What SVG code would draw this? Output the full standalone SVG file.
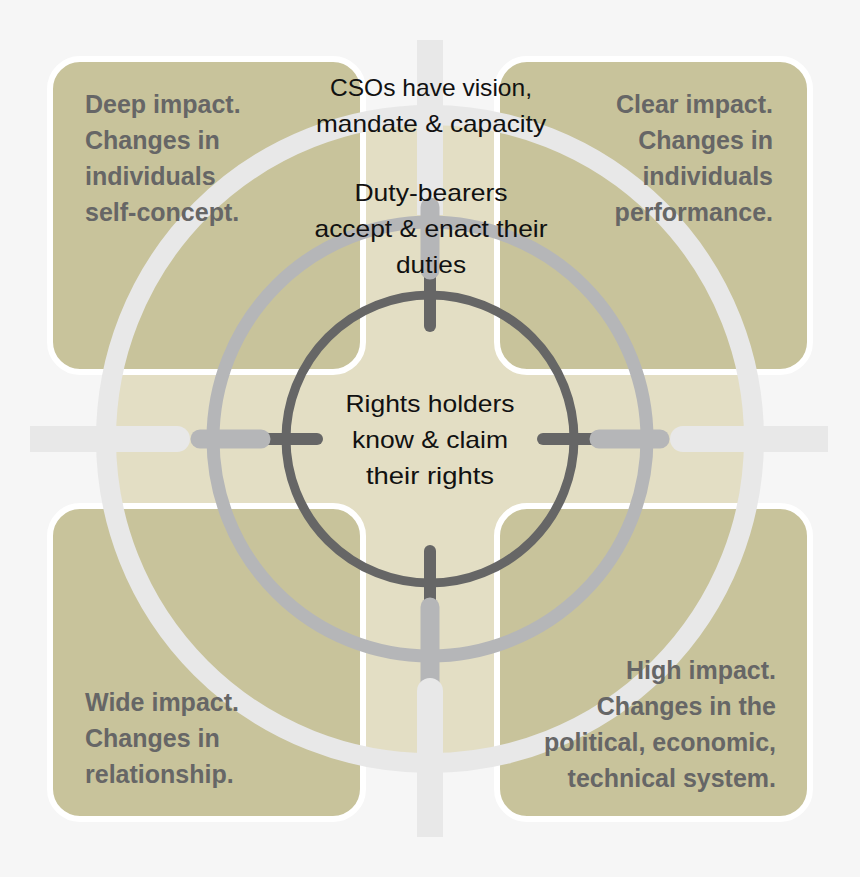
<svg xmlns="http://www.w3.org/2000/svg" width="860" height="877" viewBox="0 0 860 877">
<style>
.box{fill:#c8c39b;stroke:#ffffff;stroke-width:6}
.bt{font-family:"Liberation Sans",Arial,sans-serif;font-weight:bold;font-size:25px;fill:#666666}
.ct{font-family:"Liberation Sans",Arial,sans-serif;font-size:24px;fill:#111111;text-anchor:middle}
.ring{fill:none}
.lt{stroke:#e8e8e8}
.md{stroke:#b5b6b8}
.dk{stroke:#666666}
.bar{stroke-linecap:round;fill:none}
</style>
<rect x="0" y="0" width="860" height="877" fill="#f6f6f6"/>
<circle cx="430" cy="439" r="324" fill="#e3dec4"/>
<g id="box-deep"><rect class="box" x="50" y="59" width="313" height="313" rx="30"/></g>
<g id="box-clear"><rect class="box" x="497" y="59" width="313" height="313" rx="30"/></g>
<g id="box-wide"><rect class="box" x="50" y="506" width="313" height="313" rx="30"/></g>
<g id="box-high"><rect class="box" x="497" y="506" width="313" height="313" rx="30"/></g>
<g id="rings">
<circle class="ring lt" cx="430" cy="439" r="324" stroke-width="20"/>
<circle class="ring md" cx="430" cy="439" r="217" stroke-width="13"/>
<circle class="ring dk" cx="430" cy="439" r="144" stroke-width="9"/>
</g>
<g id="connectors">
<!-- top arm -->
<rect x="417" y="40" width="26" height="175" fill="#e8e8e8"/>
<line class="bar dk" x1="430" y1="270" x2="430" y2="326" stroke-width="12"/>
<line class="bar md" x1="430" y1="207" x2="430" y2="270" stroke-width="19"/>
<!-- bottom arm -->
<line class="bar dk" x1="430" y1="551" x2="430" y2="610" stroke-width="12"/>
<line class="bar md" x1="430" y1="607" x2="430" y2="690" stroke-width="19"/>
<path d="M417,837 V691 A13,13 0 0 1 443,691 V837 Z" fill="#e8e8e8"/>
<!-- left arm -->
<line class="bar dk" x1="317" y1="439" x2="260" y2="439" stroke-width="12"/>
<line class="bar md" x1="261" y1="439" x2="200" y2="439" stroke-width="19"/>
<path d="M30,426 H177 A13,13 0 0 1 177,452 H30 Z" fill="#e8e8e8"/>
<!-- right arm -->
<line class="bar dk" x1="543" y1="439" x2="600" y2="439" stroke-width="12"/>
<line class="bar md" x1="599" y1="439" x2="660" y2="439" stroke-width="19"/>
<path d="M828,426 H683 A13,13 0 0 0 683,452 H828 Z" fill="#e8e8e8"/>
</g>
<g id="label-deep">
<text class="bt" x="85" y="113">Deep impact.</text>
<text class="bt" x="85" y="149">Changes in</text>
<text class="bt" x="85" y="185">individuals</text>
<text class="bt" x="85" y="221">self-concept.</text>
</g>
<g id="label-clear" text-anchor="end">
<text class="bt" x="773" y="113" text-anchor="end">Clear impact.</text>
<text class="bt" x="773" y="149" text-anchor="end">Changes in</text>
<text class="bt" x="773" y="185" text-anchor="end">individuals</text>
<text class="bt" x="773" y="221" text-anchor="end">performance.</text>
</g>
<g id="label-wide">
<text class="bt" x="85" y="711">Wide impact.</text>
<text class="bt" x="85" y="747">Changes in</text>
<text class="bt" x="85" y="783">relationship.</text>
</g>
<g id="label-high">
<text class="bt" x="776" y="679" text-anchor="end">High impact.</text>
<text class="bt" x="776" y="715" text-anchor="end">Changes in the</text>
<text class="bt" x="776" y="751" text-anchor="end">political, economic,</text>
<text class="bt" x="776" y="787" text-anchor="end">technical system.</text>
</g>
<g id="label-cso">
<text class="ct" x="431" y="96" textLength="202" lengthAdjust="spacingAndGlyphs">CSOs have vision,</text>
<text class="ct" x="431" y="132" textLength="230" lengthAdjust="spacingAndGlyphs">mandate &amp; capacity</text>
</g>
<g id="label-duty">
<text class="ct" x="431" y="201" textLength="153" lengthAdjust="spacingAndGlyphs">Duty-bearers</text>
<text class="ct" x="431" y="237" textLength="233" lengthAdjust="spacingAndGlyphs">accept &amp; enact their</text>
<text class="ct" x="431" y="273" textLength="70" lengthAdjust="spacingAndGlyphs">duties</text>
</g>
<g id="label-rights">
<text class="ct" x="430" y="412" textLength="169" lengthAdjust="spacingAndGlyphs">Rights holders</text>
<text class="ct" x="430" y="448" textLength="156" lengthAdjust="spacingAndGlyphs">know &amp; claim</text>
<text class="ct" x="430" y="484" textLength="128" lengthAdjust="spacingAndGlyphs">their rights</text>
</g>
</svg>
